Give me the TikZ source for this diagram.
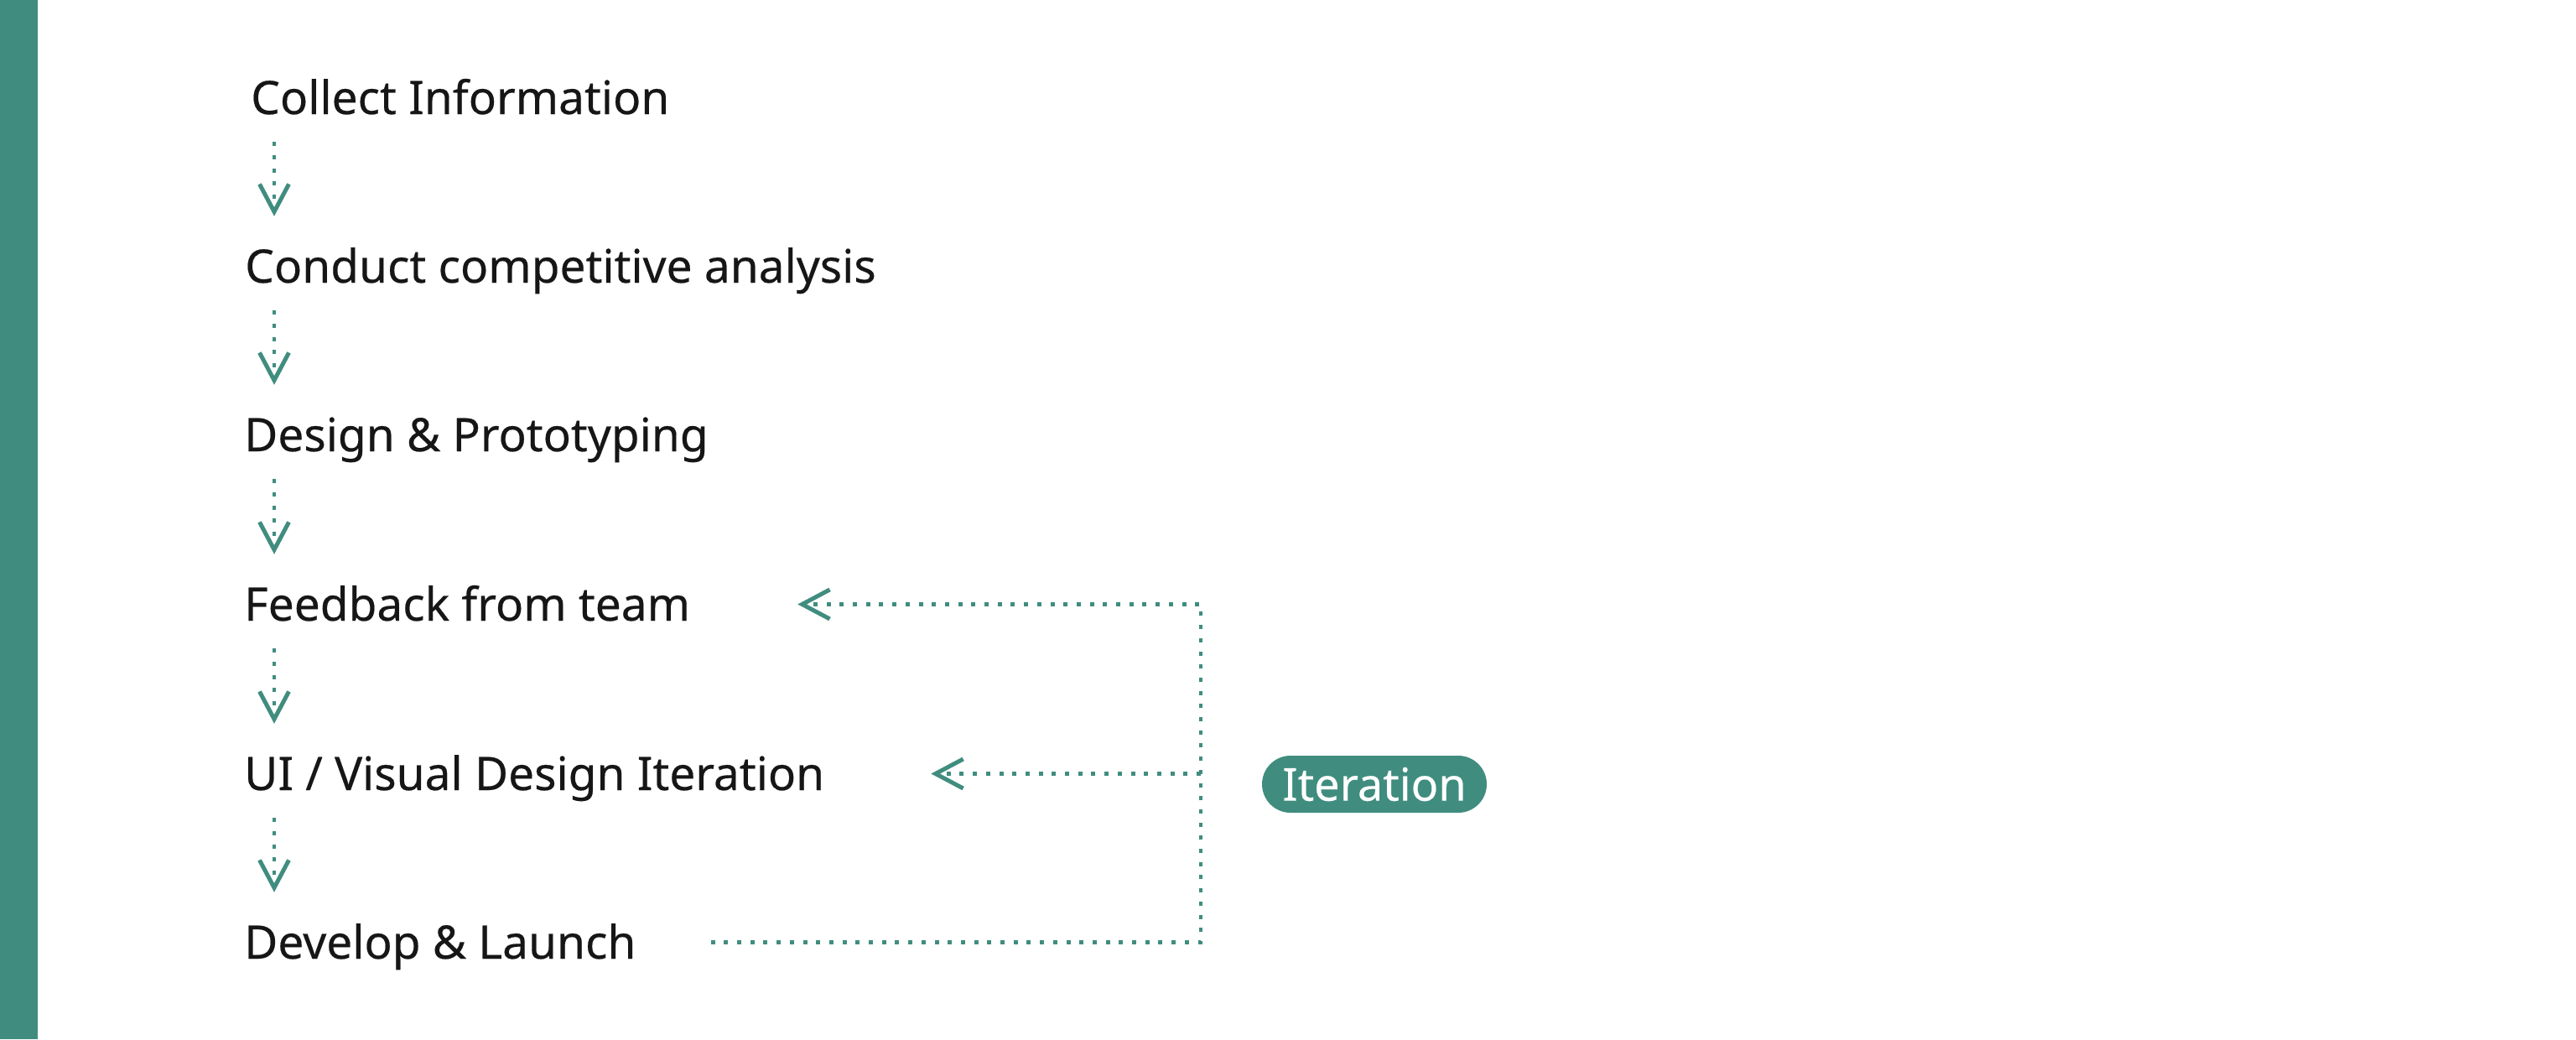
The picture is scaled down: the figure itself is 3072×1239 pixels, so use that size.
\documentclass[tikz,border=0pt]{standalone}
\usepackage{fontspec}
\setmainfont{Noto Sans}[FakeBold=0.35]
\usetikzlibrary{arrows.meta}
\definecolor{teal1}{RGB}{64,141,127}
\definecolor{ink}{RGB}{22,22,22}
\tikzset{
  rowtext/.style={anchor=base west, inner sep=0pt, text height=39pt, text depth=0pt,
    font=\fontsize{55}{60}\selectfont, text=ink},
  flow/.style={draw=teal1, line width=4.5pt, dash pattern=on 5pt off 10.7pt,
    -{Straight Barb[length=33pt,width=35pt,line width=5pt]}},
  pill/.style={fill=teal1, text=white, rounded corners=34pt, minimum height=68pt,
    minimum width=268pt, inner sep=0pt, font=\fontsize{54}{60}\selectfont}
}
\begin{document}
\begin{tikzpicture}[x=1pt,y=-1pt]
\useasboundingbox (0,0) rectangle (3072,1239);
\fill[teal1] (0,0) rectangle (45,1239);
\node[rowtext] (c1) at (299,136) {Collect Information};
\node[rowtext] (c2) at (292,337) {Conduct competitive analysis};
\node[rowtext] (c3) at (291,538) {Design \& Prototyping};
\node[rowtext] (c4) at (291,740) {Feedback from team};
\node[rowtext] (c5) at (291,942) {UI / Visual Design Iteration};
\node[rowtext] (c6) at (291,1143) {Develop \& Launch};
\node[pill] (it) at (1639,935) {Iteration};
\coordinate (ax) at (327,0);
\coordinate (jx) at (1432,0);
\foreach \a/\b in {c1/c2,c2/c3,c3/c4,c4/c5,c5/c6}{
  \draw[flow, shorten <=33pt, shorten >=40pt] (\a.south -| ax) -- (\b.north -| ax);
}
\draw[flow, shorten <=89pt, shorten >=128pt] (c6.east) -- (c6.east -| jx) -- (c4.east -| jx) -- (c4.east);
\draw[flow, shorten >=127pt] (c5.east -| jx) -- (c5.east);
\end{tikzpicture}
\end{document}
